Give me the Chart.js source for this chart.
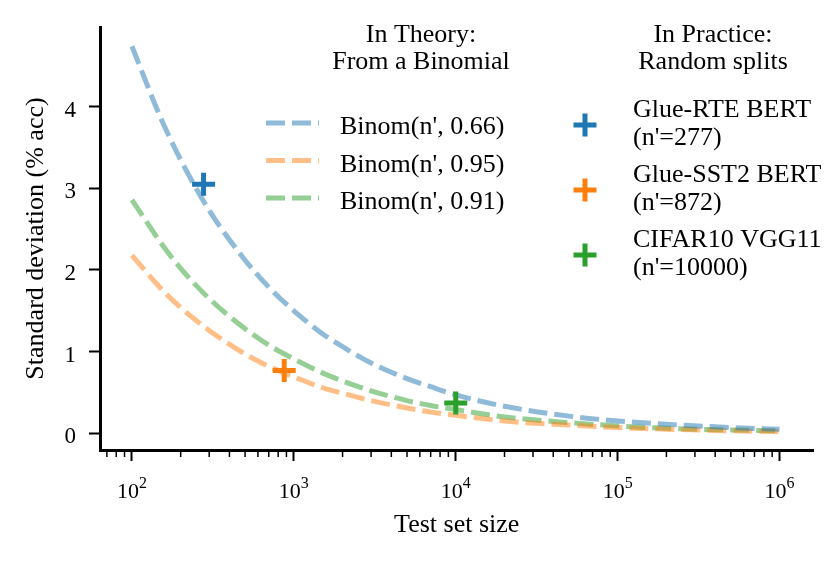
<!DOCTYPE html>
<html>
<head>
<meta charset="utf-8">
<script src="https://cdn.jsdelivr.net/npm/chart.js@4.4.0/dist/chart.umd.min.js"></script>
<style>
html, body { margin: 0; padding: 0; background: #fff; }
#chart { display: block; }
</style>
</head>
<body>
<canvas id="chart" width="830" height="564"></canvas>
<script>
// curves
const testSizes = [100, 150, 200, 300, 500, 700, 1000, 1500, 2000, 3000, 5000, 7000, 10000, 20000, 50000, 100000, 200000, 500000, 1000000];
const binom066 = [4.74, 3.87, 3.35, 2.73, 2.12, 1.79, 1.50, 1.22, 1.06, 0.86, 0.67, 0.57, 0.47, 0.33, 0.21, 0.15, 0.11, 0.07, 0.05];
const binom095 = [2.18, 1.78, 1.54, 1.26, 0.97, 0.82, 0.69, 0.56, 0.49, 0.40, 0.31, 0.26, 0.22, 0.15, 0.10, 0.07, 0.05, 0.03, 0.02];
const binom091 = [2.86, 2.34, 2.02, 1.65, 1.28, 1.08, 0.91, 0.74, 0.64, 0.52, 0.40, 0.34, 0.29, 0.20, 0.13, 0.09, 0.06, 0.04, 0.03];
const theoryLabels = ["Binom(n', 0.66)", "Binom(n', 0.95)", "Binom(n', 0.91)"];

// measured points
const practiceLabels = [['Glue-RTE BERT', "(n'=277)"], ['Glue-SST2 BERT', "(n'=872)"], ['CIFAR10 VGG11', "(n'=10000)"]];
const practiceSizes = [277, 872, 10000];
const practiceStd = [3.05, 0.77, 0.37];

const xTicks = [100, 1000, 10000, 100000, 1000000];
const yTicks = [0, 1, 2, 3, 4];

const FONT = '"Liberation Serif", "Times New Roman", serif';
const solid = ['#1f77b4', '#ff7f0e', '#2ca02c'];
const faded = ['rgba(31,119,180,0.5)', 'rgba(255,127,14,0.5)', 'rgba(44,160,44,0.5)'];
const DASH = [19, 7];

Chart.defaults.font.family = FONT;
Chart.defaults.color = '#000';

const curves = [binom066, binom095, binom091].map((vals, i) => ({
    label: theoryLabels[i],
    data: testSizes.map((n, j) => ({ x: n, y: vals[j] })),
    showLine: true,
    borderColor: faded[i],
    borderWidth: 5,
    borderDash: DASH,
    pointRadius: 0,
    cubicInterpolationMode: 'monotone',
    order: 1
}));

const points = practiceSizes.map((n, i) => ({
    label: practiceLabels[i].join(' '),
    data: [{ x: n, y: practiceStd[i] }],
    pointStyle: 'cross',
    pointRadius: 11.5,
    pointBorderWidth: 5,
    borderWidth: 5,
    borderColor: solid[i],
    backgroundColor: solid[i],
    order: 0
}));

const axisDecor = {
    id: 'axisDecor',
    afterDraw(chart) {
        const ctx = chart.ctx;
        const x = chart.scales.x;
        const y = chart.scales.y;
        const bottom = chart.chartArea.bottom;
        const left = chart.chartArea.left;
        ctx.save();
        // minor ticks of the log axis
        ctx.strokeStyle = '#000';
        ctx.lineWidth = 1.5;
        for (let d = 10; d <= 1000000; d *= 10) {
            for (let k = 2; k <= 9; k++) {
                const v = k * d;
                if (v < x.min || v > x.max) continue;
                const px = x.getPixelForValue(v);
                ctx.beginPath();
                ctx.moveTo(px, bottom);
                ctx.lineTo(px, bottom + 7);
                ctx.stroke();
            }
        }
        ctx.fillStyle = '#000';
        ctx.textBaseline = 'alphabetic';
        // decade labels 10^n
        ctx.textAlign = 'left';
        xTicks.forEach(v => {
            const px = x.getPixelForValue(v);
            const exp = String(Math.round(Math.log10(v)));
            ctx.font = '22px ' + FONT;
            const w1 = ctx.measureText('10').width;
            ctx.font = '16px ' + FONT;
            const w2 = ctx.measureText(exp).width;
            const lx = px - (w1 + w2) / 2;
            ctx.font = '22px ' + FONT;
            ctx.fillText('10', lx, bottom + 48);
            ctx.font = '16px ' + FONT;
            ctx.fillText(exp, lx + w1, bottom + 38);
        });
        // y labels
        ctx.textAlign = 'right';
        ctx.font = '23px ' + FONT;
        yTicks.forEach(v => {
            ctx.fillText(String(v), left - 24, y.getPixelForValue(v) + 10);
        });
        ctx.restore();
    }
};

const twoLegends = {
    id: 'twoLegends',
    afterDraw(chart) {
        const ctx = chart.ctx;
        ctx.save();
        ctx.fillStyle = '#000';
        ctx.font = '26px ' + FONT;
        ctx.textBaseline = 'alphabetic';
        ctx.textAlign = 'center';
        ctx.fillText('In Theory:', 421, 42);
        ctx.fillText('From a Binomial', 421, 69);
        ctx.fillText('In Practice:', 713, 42);
        ctx.fillText('Random splits', 713, 69);

        ctx.textAlign = 'left';
        theoryLabels.forEach((t, i) => {
            const ly = 123 + i * 37.5;
            ctx.strokeStyle = faded[i];
            ctx.lineWidth = 5;
            ctx.setLineDash(DASH);
            ctx.beginPath();
            ctx.moveTo(266, ly);
            ctx.lineTo(319, ly);
            ctx.stroke();
            ctx.setLineDash([]);
            ctx.fillText(t, 340, ly + 11);
        });

        practiceLabels.forEach((lines, i) => {
            const cy = 125 + i * 65;
            ctx.strokeStyle = solid[i];
            ctx.lineWidth = 5;
            ctx.beginPath();
            ctx.moveTo(585 - 11.5, cy);
            ctx.lineTo(585 + 11.5, cy);
            ctx.moveTo(585, cy - 11.5);
            ctx.lineTo(585, cy + 11.5);
            ctx.stroke();
            ctx.fillText(lines[0], 633, cy - 8);
            ctx.fillText(lines[1], 633, cy + 20);
        });
        ctx.restore();
    }
};

new Chart(document.getElementById('chart'), {
    type: 'scatter',
    data: { datasets: points.concat(curves) },
    options: {
        responsive: false,
        animation: false,
        devicePixelRatio: 1,
        layout: { padding: { top: 27, right: 15, left: 0, bottom: 0 } },
        plugins: {
            legend: { display: false },
            title: { display: false },
            tooltip: { enabled: false }
        },
        scales: {
            x: {
                type: 'logarithmic',
                min: 63.5,
                max: 1.62e6,
                afterBuildTicks: s => { s.ticks = xTicks.map(v => ({ value: v, major: true })); },
                afterFit: s => { s.height = 114; },
                ticks: { display: false },
                grid: { drawOnChartArea: false, drawTicks: true, tickLength: 11, tickWidth: 2, tickColor: '#000' },
                border: { display: true, color: '#000', width: 3 },
                title: { display: true, text: 'Test set size', font: { size: 26 }, color: '#000', padding: { top: 0, bottom: 23 } }
            },
            y: {
                type: 'linear',
                min: -0.205,
                max: 4.976,
                afterBuildTicks: s => { s.ticks = yTicks.map(v => ({ value: v })); },
                afterFit: s => { s.width = 100; },
                ticks: { display: false },
                grid: { drawOnChartArea: false, drawTicks: true, tickLength: 11, tickWidth: 2, tickColor: '#000' },
                border: { display: true, color: '#000', width: 3 },
                title: { display: true, text: 'Standard deviation (% acc)', font: { size: 26 }, color: '#000', padding: { top: 21, bottom: 0 } }
            }
        }
    },
    plugins: [axisDecor, twoLegends]
});
</script>
</body>
</html>
